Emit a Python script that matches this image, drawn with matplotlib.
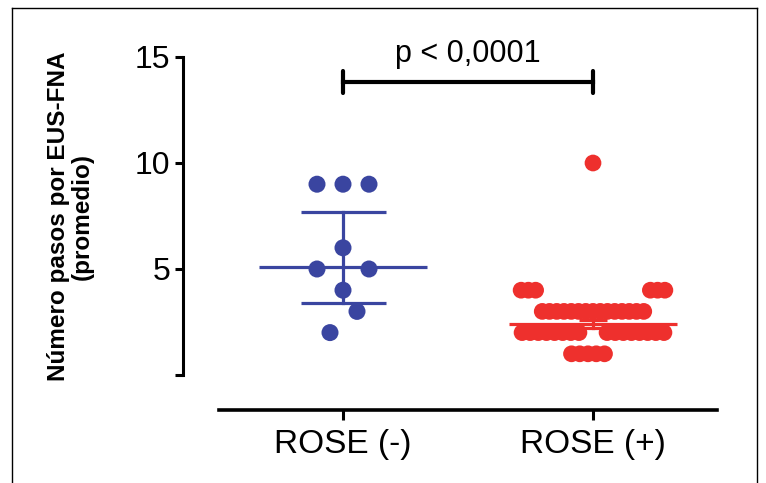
import numpy as np
import matplotlib
matplotlib.use('Agg')
import matplotlib.pyplot as plt
from matplotlib.lines import Line2D

plt.rcParams['font.family'] = ['Liberation Sans', 'DejaVu Sans']

groups = ['ROSE (-)', 'ROSE (+)']
blue_values = [9, 9, 9, 6, 5, 5, 4, 3, 2]
red_values = [10,
              4, 4, 4, 4, 4, 4,
              3, 3, 3, 3, 3, 3, 3, 3, 3, 3, 3, 3, 3, 3, 3,
              2, 2, 2, 2, 2, 2, 2, 2, 2, 2, 2, 2, 2, 2, 2, 2,
              1, 1, 1, 1, 1]
# centre line and error bar ends
blue_center, blue_low, blue_high = 5.1, 3.4, 7.7
red_center, red_low, red_high = 2.4, 2.2, 2.6
yticks = [0, 5, 10, 15]
ytick_labels = ['', '5', '10', '15']
p_text = 'p < 0,0001'
ylabel = 'Número pasos por EUS-FNA\n(promedio)'

blue = '#3a45a0'
red = '#ee302d'


def row_offsets(n, step, gap=0.0):
    # n points centred on 0, optionally split by a gap in the middle
    off = (np.arange(n) - (n - 1) / 2) * step
    return off + np.sign(off) * gap / 2


def layout(values, xc, step, gaps={}, shifts={}, steps={}):
    vals = np.array(values)
    xs, ys = [], []
    for v in np.unique(vals):
        n = np.sum(vals == v)
        off = row_offsets(n, steps.get(v, step), gaps.get(v, 0.0)) + shifts.get(v, 0.0)
        xs.extend(xc + off)
        ys.extend([v] * n)
    return np.array(xs), np.array(ys)


fig = plt.figure(figsize=(7.66, 4.83), dpi=100)
ax = fig.add_axes([183 / 766, 108 / 483, 534 / 766, 318 / 483])

# spine position first, it resets the tick settings
for s in ['top', 'right']:
    ax.spines[s].set_visible(False)
ax.spines['bottom'].set_position(('outward', 25))

bx, by = layout(blue_values, 0, 0.104, gaps={5: 0.104}, shifts={3: 0.056, 2: -0.052})
rx, ry = layout(red_values, 1, 0.029, gaps={4: 0.43, 2: 0.08},
                shifts={1: -0.02}, steps={2: 0.0325, 1: 0.033})

ax.scatter(bx, by, s=150, color=blue, edgecolors='none', zorder=3, clip_on=False)
ax.scatter(rx, ry, s=145, color=red, edgecolors='none', zorder=3, clip_on=False)

# centre lines with error bars
for xc, c, lo, hi, col, cap in [(0, blue_center, blue_low, blue_high, blue, 0.17),
                                 (1, red_center, red_low, red_high, red, 0.056)]:
    ax.plot([xc - 0.336, xc + 0.336], [c, c], color=col, lw=2.3, zorder=4, solid_capstyle='butt')
    ax.plot([xc, xc], [lo, hi], color=col, lw=2.3, zorder=4)
    ax.plot([xc - cap, xc + cap], [lo, lo], color=col, lw=2.3, zorder=4, solid_capstyle='butt')
    ax.plot([xc - cap, xc + cap], [hi, hi], color=col, lw=2.3, zorder=4, solid_capstyle='butt')

# significance bracket
ax.plot([0, 1], [13.82, 13.82], color='black', lw=3, zorder=5, clip_on=False)
ax.plot([0, 0], [13.3, 14.34], color='black', lw=3, zorder=5, solid_capstyle='round', clip_on=False)
ax.plot([1, 1], [13.3, 14.34], color='black', lw=3, zorder=5, solid_capstyle='round', clip_on=False)
ax.text(0.5, 14.76, p_text, ha='center', va='baseline', fontsize=22)

ax.set_xlim(-0.64, 1.496)
ax.set_ylim(0, 15)
ax.set_yticks(yticks)
ax.set_yticklabels(ytick_labels, fontsize=23)
ax.set_xticks([0, 1])
ax.set_xticklabels(groups, fontsize=24)

ax.spines['left'].set_linewidth(2.2)
ax.spines['left'].set_bounds(0, 15)
ax.spines['bottom'].set_linewidth(2.6)
ax.spines['bottom'].set_bounds(-0.496, 1.496)
ax.tick_params(axis='y', length=6, width=2.2, pad=3)
ax.tick_params(axis='x', length=7, width=2.2, pad=7)
ax.set_ylabel(ylabel, fontsize=17.5, fontweight='bold', linespacing=1.0, labelpad=30)

# outer frame
W, H = 766, 483
fig.add_artist(Line2D([12 / W, 12 / W], [0, 1 - 8 / H], color='black', lw=1))
fig.add_artist(Line2D([12 / W, 757 / W], [1 - 8 / H, 1 - 8 / H], color='black', lw=1))
fig.add_artist(Line2D([757 / W, 757 / W], [0, 1 - 8 / H], color='black', lw=1))

fig.savefig('out.png', dpi=100)
